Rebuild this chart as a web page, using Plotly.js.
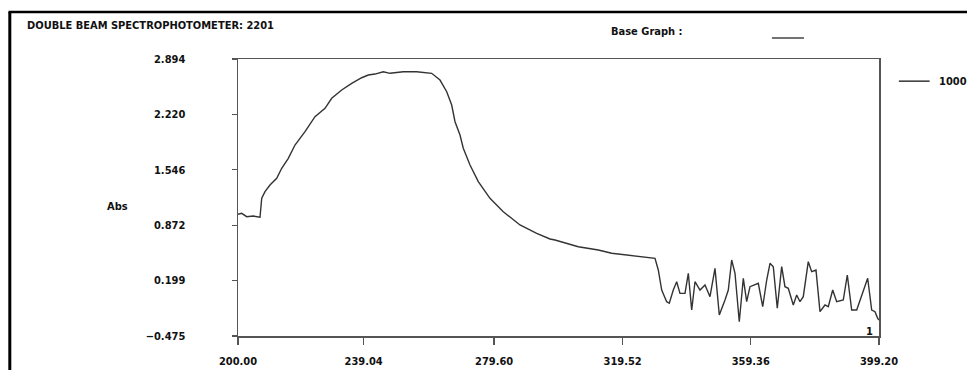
<!DOCTYPE html>
<html>
<head>
<meta charset="utf-8">
<script src="https://cdn.plot.ly/plotly-3.0.1.min.js"></script>
<style>
  html, body { margin: 0; padding: 0; background: #fff; }
  #chart { width: 967px; height: 370px; }
</style>
</head>
<body>
<div id="chart"></div>
<script>
// Scan of sample "1000": wavelength (nm) vs absorbance
const wavelength = [
  200.00, 201.15, 202.70, 204.75, 206.84, 207.37, 208.39, 209.94, 212.03, 213.58,
  215.63, 217.71, 220.82, 223.93, 227.04, 229.12, 232.23, 235.33, 238.44, 240.49,
  242.57, 245.15, 247.24, 251.37, 255.53, 260.19, 262.77, 264.86, 266.41, 267.44,
  268.99, 270.01, 272.10, 274.67, 278.31, 282.44, 287.63, 292.82, 296.96, 298.51,
  305.75, 311.97, 316.13, 321.29, 326.48, 329.59, 330.61, 331.67, 333.22, 334.03,
  335.27, 336.33, 337.35, 338.91, 339.94, 340.99, 342.02, 343.57, 345.13, 346.68,
  348.23, 349.57, 351.34, 352.37, 353.42, 354.45, 355.78, 357.03, 358.08, 359.11,
  361.69, 363.06, 364.30, 365.33, 366.35, 367.59, 368.96, 369.98, 371.01, 372.56,
  373.62, 374.64, 375.67, 377.22, 378.28, 379.62, 380.86, 382.42, 383.44, 384.81,
  386.05, 388.10, 389.35, 390.71, 392.27, 395.68, 396.93, 397.95, 398.79, 399.20
];
const absorbance = [
  1.005, 1.017, 0.976, 0.984, 0.969, 1.200, 1.280, 1.361, 1.443, 1.565,
  1.686, 1.848, 2.010, 2.192, 2.294, 2.416, 2.517, 2.598, 2.666, 2.699,
  2.711, 2.739, 2.720, 2.739, 2.739, 2.720, 2.638, 2.496, 2.334, 2.131,
  1.970, 1.808, 1.605, 1.402, 1.200, 1.037, 0.875, 0.774, 0.705, 0.693,
  0.611, 0.571, 0.531, 0.506, 0.489, 0.470, 0.328, 0.084, -0.058, -0.077,
  0.084, 0.185, 0.044, 0.044, 0.288, -0.159, 0.185, 0.084, 0.145, 0.003,
  0.348, -0.220, -0.037, 0.084, 0.449, 0.288, -0.301, 0.227, -0.058, 0.125,
  0.166, -0.119, 0.206, 0.409, 0.368, -0.138, 0.368, 0.125, 0.105, -0.098,
  0.024, -0.058, 0.003, 0.429, 0.307, 0.328, -0.179, -0.098, -0.119, 0.084,
  -0.058, -0.037, 0.267, -0.159, -0.159, 0.227, -0.159, -0.179, -0.260, -0.280
];
const xTicks = [200.00, 239.04, 279.60, 319.52, 359.36, 399.20];
const yTicks = [-0.475, 0.199, 0.872, 1.546, 2.220, 2.894];
const seriesName = '1000';
const instrument = 'DOUBLE BEAM SPECTROPHOTOMETER: 2201';

const FONT = '"Liberation Sans Narrow", "DejaVu Sans Condensed", "Arial Narrow", sans-serif';
const INK = '#111';
const AXIS = '#555';

const trace = {
  x: wavelength,
  y: absorbance,
  type: 'scatter',
  mode: 'lines',
  name: seriesName,
  line: { color: '#333', width: 1.4 },
  hoverinfo: 'x+y'
};

const textFont = { family: FONT, size: 11, color: INK, weight: 'bold' };

const layout = {
  width: 967,
  height: 370,
  margin: { l: 238, r: 88, t: 59, b: 34 },
  paper_bgcolor: '#fff',
  plot_bgcolor: '#fff',
  showlegend: false,
  xaxis: {
    range: [200, 399.2],
    tickvals: xTicks,
    tickformat: '.2f',
    ticks: 'outside',
    ticklen: 7,
    tickwidth: 1.3,
    tickcolor: AXIS,
    showline: true,
    linecolor: AXIS,
    linewidth: 1.5,
    mirror: true,
    showgrid: false,
    zeroline: false,
    tickfont: textFont,
    ticklabelstandoff: 7
  },
  yaxis: {
    range: [-0.475, 2.894],
    tickvals: yTicks,
    tickformat: '.3f',
    ticks: 'outside',
    ticklen: 5,
    tickwidth: 1.3,
    tickcolor: AXIS,
    showline: true,
    linecolor: AXIS,
    linewidth: 1.5,
    mirror: true,
    showgrid: false,
    zeroline: false,
    tickfont: textFont,
    ticklabelstandoff: 44
  },
  annotations: [
    { text: instrument, xref: 'paper', yref: 'paper', x: -0.333, y: 1.12,
      xanchor: 'left', yanchor: 'middle', showarrow: false, font: textFont },
    { text: 'Base Graph :', xref: 'paper', yref: 'paper', x: 0.638, y: 1.101,
      xanchor: 'center', yanchor: 'middle', showarrow: false, font: textFont },
    { text: seriesName, xref: 'paper', yref: 'paper', x: 1.09, y: 0.92,
      xanchor: 'left', yanchor: 'middle', showarrow: false, font: textFont },
    { text: 'Abs', xref: 'paper', yref: 'paper', x: -0.188, y: 0.467,
      xanchor: 'center', yanchor: 'middle', showarrow: false, font: textFont },
    { text: '1', xref: 'paper', yref: 'paper', x: 0.985, y: 0.016,
      xanchor: 'center', yanchor: 'middle', showarrow: false, font: textFont }
  ],
  shapes: [
    // outer frame, left and top edges
    { type: 'line', xref: 'paper', yref: 'paper', x0: -0.356, x1: -0.356, y0: 1.17, y1: -0.2,
      line: { color: '#000', width: 3 } },
    { type: 'line', xref: 'paper', yref: 'paper', x0: -0.358, x1: 1.2, y0: 1.17, y1: 1.17,
      line: { color: '#000', width: 2.5 } },
    // base graph swatch
    { type: 'line', xref: 'paper', yref: 'paper', x0: 0.833, x1: 0.883, y0: 1.076, y1: 1.076,
      line: { color: '#444', width: 1.5 } },
    // series swatch
    { type: 'line', xref: 'paper', yref: 'paper', x0: 1.031, x1: 1.079, y0: 0.92, y1: 0.92,
      line: { color: '#333', width: 1.5 } }
  ]
};

Plotly.newPlot('chart', [trace], layout, { displayModeBar: false, staticPlot: true });
</script>
</body>
</html>
